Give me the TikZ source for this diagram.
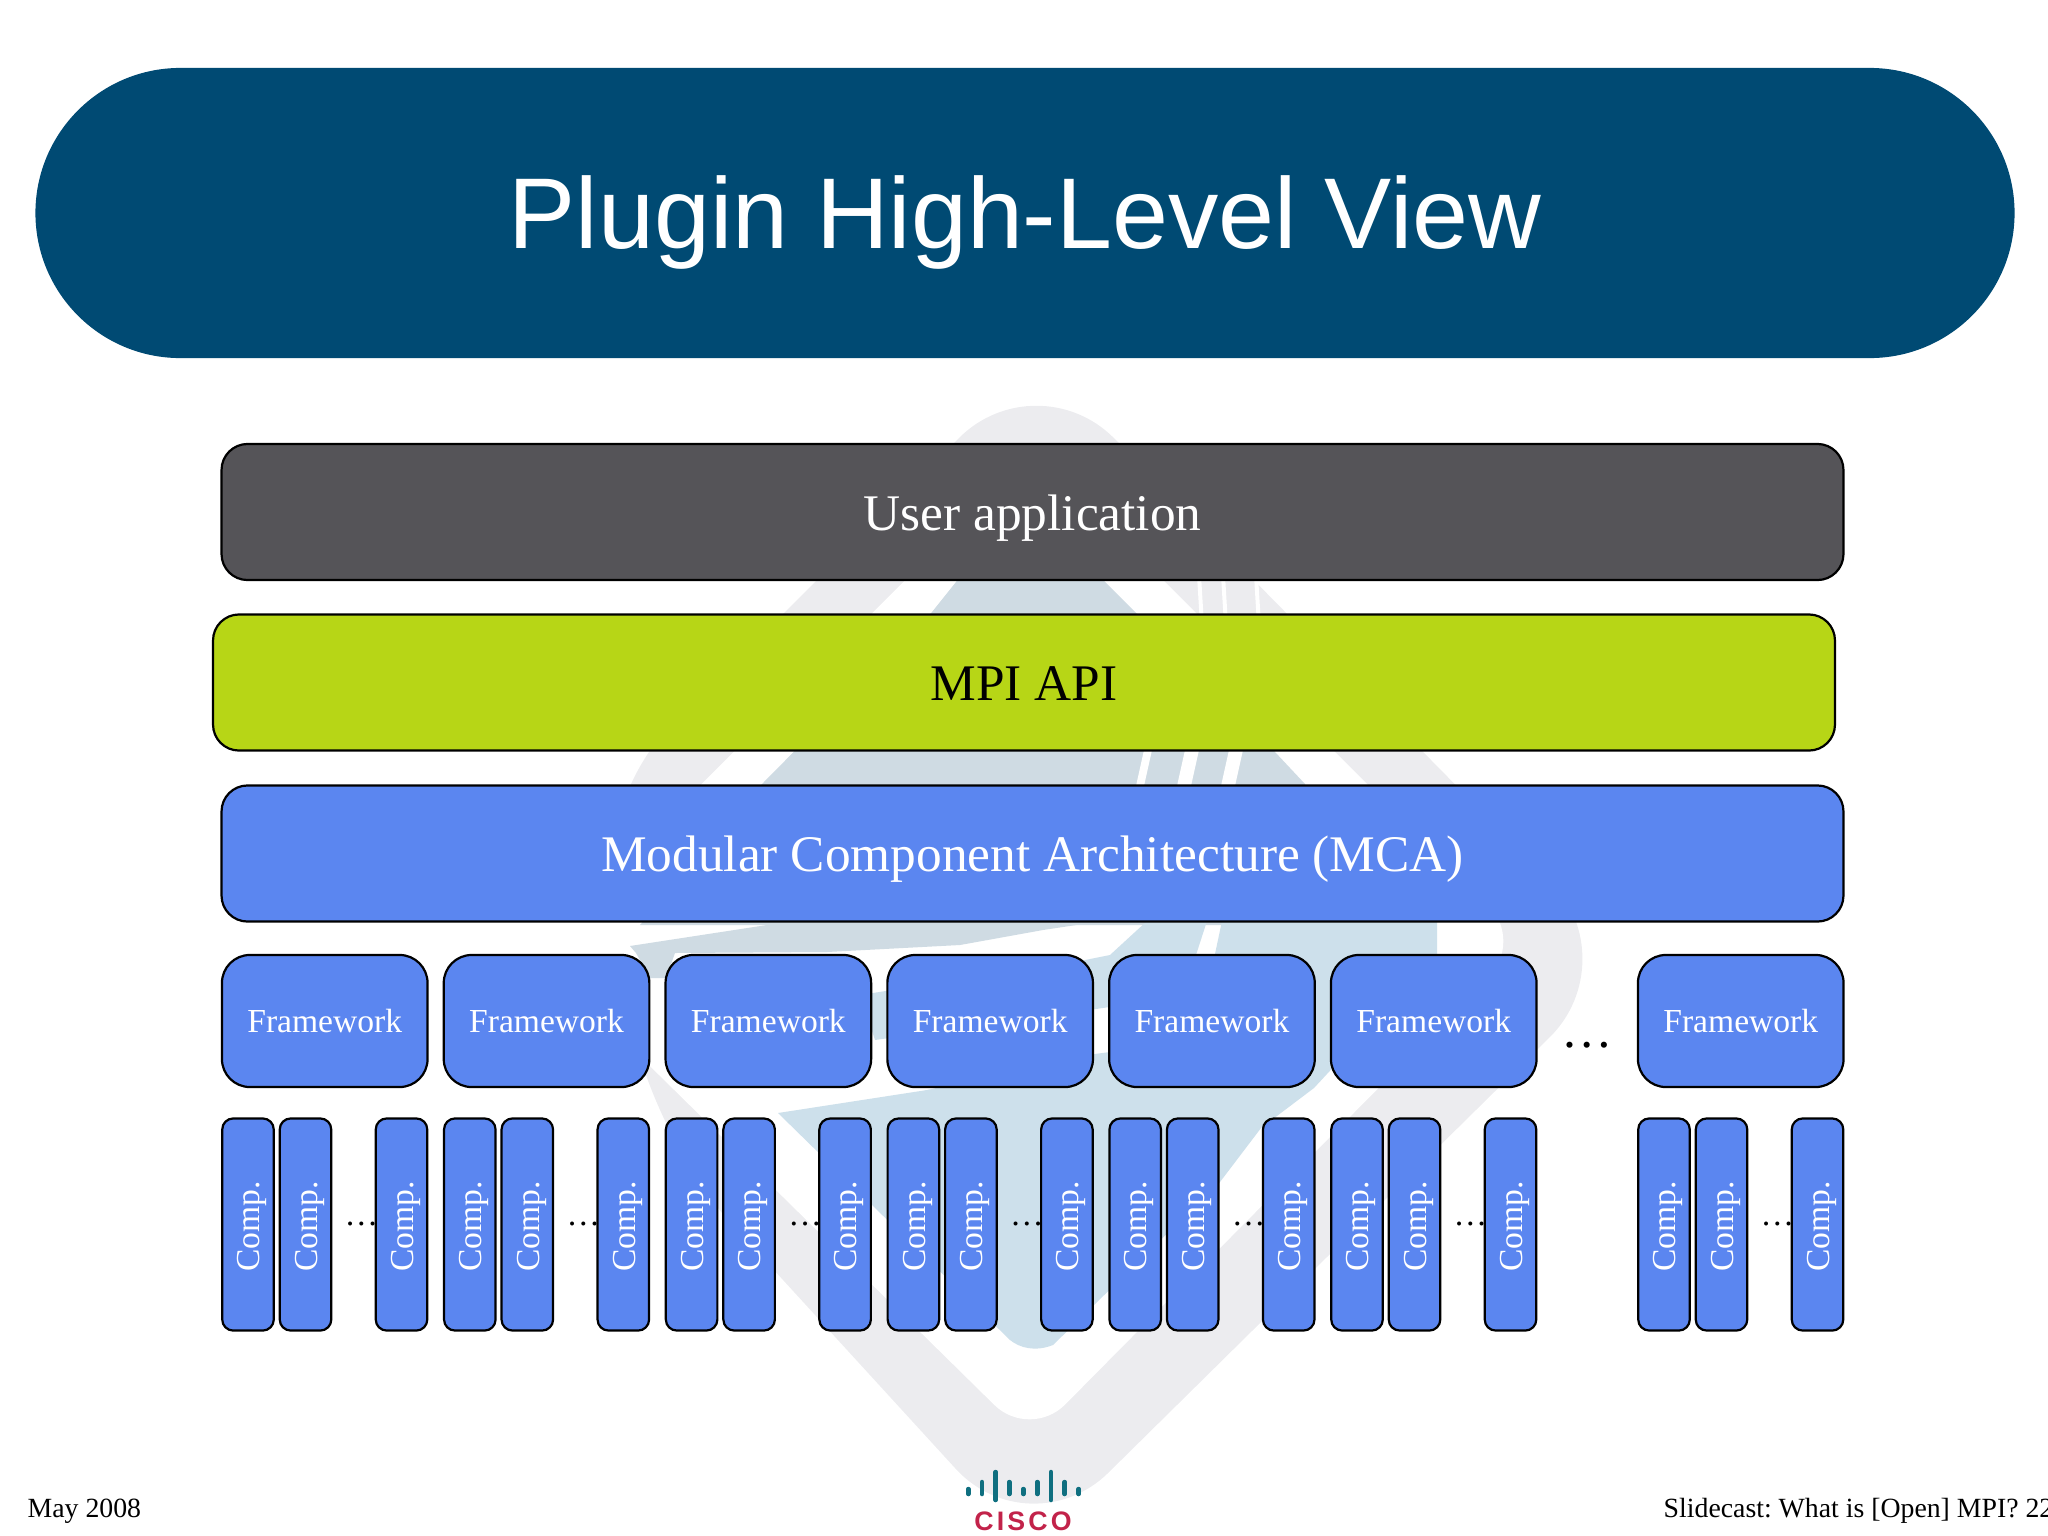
\documentclass[tikz,border=0pt]{standalone}
\usepackage{fontspec}
\setmainfont{Liberation Serif}
\newfontfamily\titlefont{Liberation Sans}
\newfontfamily\logofont[LetterSpace=12]{Liberation Sans}

\definecolor{titleblue}{HTML}{004A73}
\definecolor{usergray}{HTML}{555458}
\definecolor{apilime}{HTML}{B7D616}
\definecolor{mcablue}{HTML}{5B86F0}
\definecolor{markgray}{HTML}{ECECEF}
\definecolor{marksail}{HTML}{CFDBE3}
\definecolor{markblue}{HTML}{CDE0EB}
\definecolor{logoteal}{HTML}{0F6F80}
\definecolor{logored}{HTML}{C2234A}

\tikzset{
  layer/.style = {draw = black, line width = 0.022cm, rounded corners = 0.26cm,
    minimum width = 16.21cm, minimum height = 1.36cm, inner sep = 0pt,
    text height = 0.46cm, text depth = 0.10cm,
    font = \fontsize{14.6}{16}\selectfont},
  framework/.style = {draw = black, fill = mcablue, text = white, line width = 0.022cm,
    rounded corners = 0.28cm, minimum width = 2.055cm, minimum height = 1.32cm,
    inner sep = 0pt, text height = 0.30cm, text depth = 0.066cm,
    font = \fontsize{9.55}{11}\selectfont},
  comp/.style = {draw = black, fill = mcablue, text = white, line width = 0.022cm,
    rounded corners = 0.11cm, minimum width = 2.12cm, minimum height = 0.515cm,
    inner sep = 0pt, rotate = 90, text height = 0.30cm, text depth = 0.066cm,
    font = \fontsize{9.55}{11}\selectfont},
  footer/.style = {anchor = base west, inner sep = 0pt, font = \fontsize{7.9}{9}\selectfont\frenchspacing},
  dots/.style = {anchor = base, inner sep = 0pt}
}

\begin{document}
\begin{tikzpicture}[x = 0.01cm, y = -0.01cm]
  \def \fwy {1021};
  \def \compy {1224.5};
  \def \fwwidth {205.5};

  \useasboundingbox (0, 0) rectangle (2048, 1536);
  \clip (0, 0) rectangle (2048, 1536);

  % Draw faded ring behind the layers.
  \fill[markgray] (590, 807) [rounded corners = 1.1cm] -- (1037, 360) -- (1628, 960) -- (1030, 1550) -- (655, 1140) -- cycle;
  \fill[white, rounded corners = 0.5cm] (1034, 451) -- (1524, 941) -- (1030, 1440) -- (534, 952) -- cycle;
  \foreach \x in {1200, 1224, 1257} {
    \fill[white] ({\x - 3}, 575) -- ({\x + 1}, 575) -- ({\x + 4}, 625) -- ({\x - 0}, 625) -- cycle;
  };

  % Draw faded sail and streaks.
  \fill[marksail] (1033, 480) -- (1105, 582) -- (1275, 752) -- (1305, 784) -- (1340, 925) -- (640, 925) -- (762, 784) -- (932, 612) -- (956, 582) -- cycle;
  \foreach \x/\w in {1144/8, 1188/14, 1232/14} {
    \fill[white] ({\x - \w/2 + 4}, 750) -- ({\x + \w/2 + 4}, 750) -- ({\x + \w/2 - 4}, 786) -- ({\x - \w/2 - 4}, 786) -- cycle;
  };
  \fill[marksail] (630, 946) -- (793, 921) -- (1103, 921) -- (1043, 930) -- (960, 945) -- (827, 952) -- (675, 953) -- (666, 978) -- (650, 978) -- (636, 953) -- cycle;
  \fill[markblue] (1147, 921) -- (1207, 921) -- (1195, 958) -- (1190, 995) -- (1096, 1009) -- (875, 1040) -- (860, 995) -- (1085, 960) -- (1110, 955) -- cycle;
  \fill[markblue] (1222, 921) -- (1437, 921) -- (1437, 955) -- (1314, 1088) -- (1261, 1128) -- (1220, 1182) -- (1053, 1345) .. controls (1035, 1352) and (1020, 1348) .. (1010, 1340) -- (778, 1113) -- (927, 1090) -- (1087, 1055) -- (1110, 1052) -- (1215, 954) -- cycle;

  % Draw title band and the three layers.
  \node[fill = titleblue, text = white, rounded corners = 1.45cm, minimum width = 19.78cm, minimum height = 2.90cm, inner sep = 0pt, text height = 0.90cm, text depth = 0.20cm, font = \titlefont\fontsize{28.6}{32}\selectfont] (title) at (1025, 213) {Plugin High-Level View};
  \node[layer, fill = usergray, text = white] (user) at (1032.5, 512) {User application};
  \node[layer, fill = apilime, text = black] (api) at (1024, 682.5) {MPI API};
  \node[layer, fill = mcablue, text = white] (mca) at (1032.5, 853.5) {Modular Component Architecture (MCA)};

  % Draw frameworks and their components.
  \foreach \x [count = \i] in {222, 443.8, 665.6, 887.4, 1109.2, 1331, 1638} {
    \node[framework] (fw\i) at ({\x + \fwwidth / 2}, \fwy) {Framework};
    \node[dots, font = \fontsize{9.55}{11}\selectfont] (compdots\i) at ({\x + 139.5}, 1225) {…};
    \node[comp] (comp\i-a) at ({\x + 26}, \compy) {Comp.\kern 1pt};
    \node[comp] (comp\i-b) at ({\x + 83.5}, \compy) {Comp.\kern 1pt};
    \node[comp] (comp\i-c) at ({\x + 179.5}, \compy) {Comp.\kern 1pt};
  };
  \node[dots, font = \fontsize{14.6}{16}\selectfont] (fwdots) at (1587, 1047) {…};

  % Draw footer.
  \node[footer] (date) at (27, 1517) {May 2008};
  \node[footer] (talk) at (1663, 1517) {Slidecast: What is [Open] MPI? 22};

  % Draw logo.
  \foreach \x/\ya/\yb in {968.3/1489/1494, 982/1482/1494, 995.7/1472/1500, 1009.3/1482/1494, 1023.3/1489/1494, 1037.3/1482/1494, 1051/1472/1500, 1064.7/1482/1494, 1078.7/1489/1494} {
    \draw[logoteal, line width = 0.045cm, line cap = round] (\x, \ya) -- (\x, \yb);
  };
  \node[text = logored, inner sep = 0pt, font = \logofont\bfseries\fontsize{7.6}{9}\selectfont] (logo) at (1023, 1521) {CISCO};
\end{tikzpicture}
\end{document}
